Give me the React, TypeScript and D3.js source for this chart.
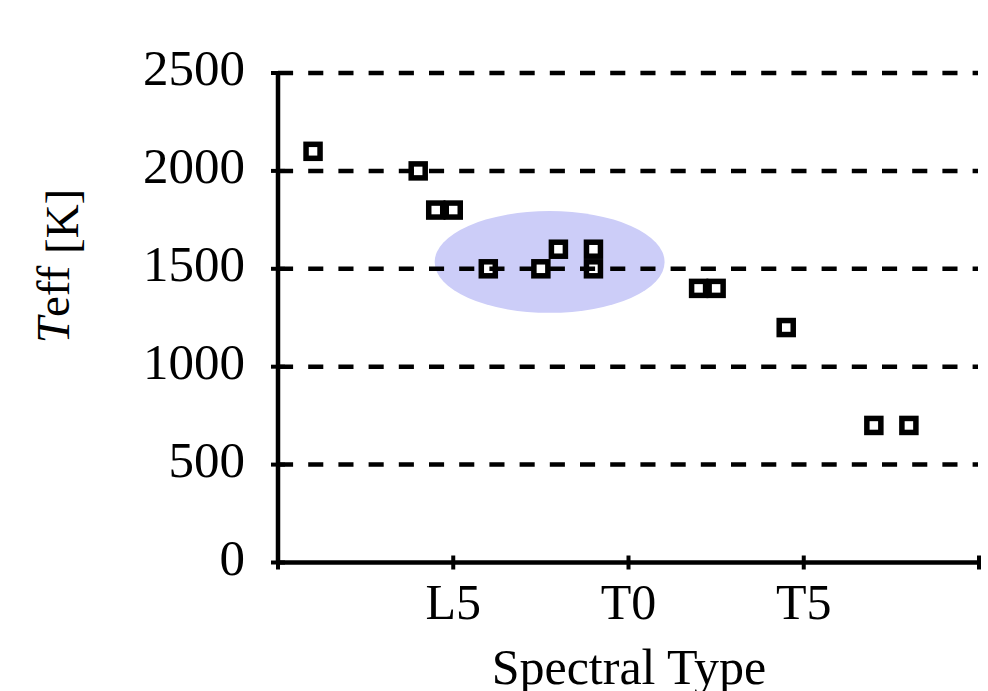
import React from 'react';
import * as d3 from 'd3';

// spectral types of the objects and their effective temperatures
const spectralTypes = ['L1', 'L4', 'L4.5', 'L5', 'L6', 'L7.5', 'L8', 'L9', 'L9', 'T2', 'T2.5', 'T4.5', 'T7', 'T8'];
const teffValues = [2100, 2000, 1800, 1800, 1500, 1500, 1600, 1600, 1500, 1400, 1400, 1200, 700, 700];

const xTickTypes = ['L0', 'L5', 'T0', 'T5', 'T10'];
const xTickLabels = ['', 'L5', 'T0', 'T5', ''];
const yTicks = [0, 500, 1000, 1500, 2000, 2500];

// highlighted region (data units)
const regionCenter = ['L7.75', 1535];
const regionRadius = [3.28, 260];

const FONT = '"Liberation Serif", "Times New Roman", serif';

// L0 -> 0, T0 -> 10
function typeToNum(t: string) {
  const v = parseFloat(t.slice(1));
  return t[0] === 'T' ? v + 10 : v;
}

export default function App() {
  const width = 988;
  const height = 691;

  const x = d3.scaleLinear().domain([0, 20]).range([278, 979]);
  const y = d3.scaleLinear().domain([0, 2500]).range([562.5, 73]);

  const x0 = x(0);
  const y0 = y(0);
  const points = spectralTypes.map((t, i) => ({ x: typeToNum(t), y: teffValues[i] }));

  const cx = x(typeToNum(regionCenter[0] as string));
  const cy = y(regionCenter[1] as number);
  const rx = x(regionRadius[0]) - x(0);
  const ry = y(0) - y(regionRadius[1]);

  const box = 14;

  return (
    <svg
      width={width}
      height={height}
      style={{ position: 'absolute', left: 0, top: 0, background: '#fff' }}
    >
      <rect width={width} height={height} fill="#fff" />

      <ellipse cx={cx} cy={cy} rx={rx} ry={ry} fill="#cccdf8" />

      {/* markers */}
      {points.map((d, i) => (
        <rect
          key={i}
          x={x(d.x) - box / 2}
          y={y(d.y) - box / 2}
          width={box}
          height={box}
          fill="#fff"
          stroke="#000"
          strokeWidth={5.5}
        />
      ))}

      {/* dashed gridlines, drawn over the markers */}
      {yTicks.filter((t) => t > 0).map((t) => (
        <line
          key={t}
          x1={x0}
          x2={978}
          y1={y(t)}
          y2={y(t)}
          stroke="#000"
          strokeWidth={4.5}
          strokeDasharray="15.1 15.1"
        />
      ))}

      {/* axes */}
      <line x1={x0} x2={x0} y1={y(2500)} y2={y0} stroke="#000" strokeWidth={4.5} />
      <line x1={x0} x2={x(20)} y1={y0} y2={y0} stroke="#000" strokeWidth={4.5} />

      {yTicks.map((t) => (
        <g key={t}>
          <line x1={x0 - 7} x2={x0 + 7} y1={y(t)} y2={y(t)} stroke="#000" strokeWidth={4} />
          <text
            x={245}
            y={y(t) + 12}
            textAnchor="end"
            fontFamily={FONT}
            fontSize={51}
            fill="#000"
          >
            {t}
          </text>
        </g>
      ))}

      {xTickTypes.map((t, i) => (
        <g key={t}>
          <line
            x1={x(typeToNum(t))}
            x2={x(typeToNum(t))}
            y1={y0 - 7}
            y2={y0 + 7}
            stroke="#000"
            strokeWidth={4}
          />
          <text
            x={x(typeToNum(t))}
            y={619}
            textAnchor="middle"
            fontFamily={FONT}
            fontSize={50}
            fill="#000"
          >
            {xTickLabels[i]}
          </text>
        </g>
      ))}

      <text x={629} y={684} textAnchor="middle" fontFamily={FONT} fontSize={50} fill="#000">
        Spectral Type
      </text>

      <text
        transform="translate(78,266) rotate(-90)"
        textAnchor="middle"
        fontFamily={FONT}
        fontSize={47}
        fill="#000"
      >
        <tspan dy={-9} fontStyle="italic">T</tspan>
        <tspan>eff</tspan>
        <tspan dy={9}> [K]</tspan>
      </text>
    </svg>
  );
}
